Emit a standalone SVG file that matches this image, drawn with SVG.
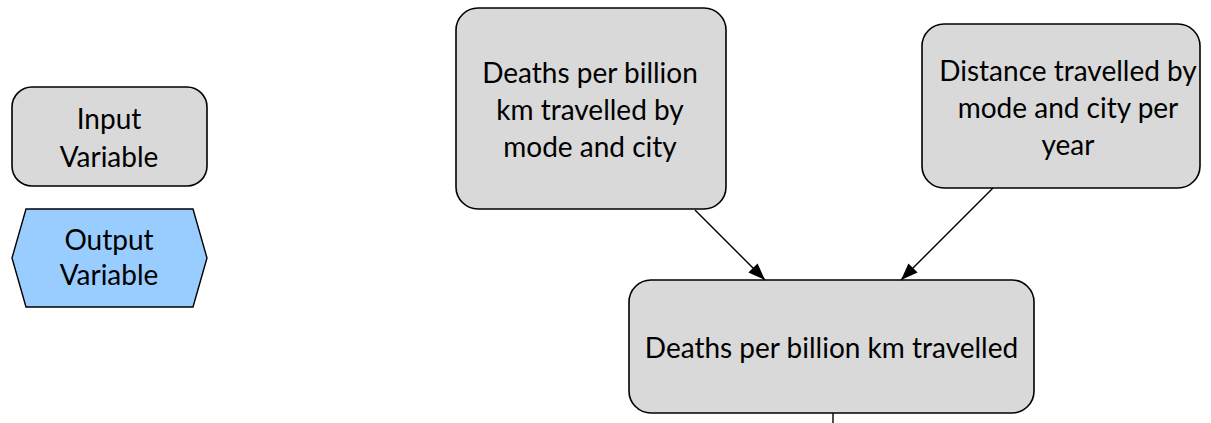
<svg xmlns="http://www.w3.org/2000/svg" width="1211" height="423" viewBox="0 0 1211 423">
  <style>
    .var { fill: #d9d9d9; stroke: #000; stroke-width: 1.6; }
    .out { fill: #99ccff; stroke: #000; stroke-width: 1.4; }
    .lbl { font-family: Lato, "Liberation Sans", sans-serif; font-size: 28px; fill: #000; text-anchor: middle; }
    .link { stroke: #000; stroke-width: 1.4; fill: none; }
  </style>
  <defs>
    <marker id="arrow" viewBox="0 0 17 13" refX="17" refY="6.5" markerWidth="17" markerHeight="13" markerUnits="userSpaceOnUse" orient="auto">
      <path d="M0,0 L17,6.5 L0,13 Z" fill="#000"/>
    </marker>
  </defs>
  <rect width="1211" height="423" fill="#fff"/>

  <!-- legend -->
  <g id="legend-input">
    <rect class="var" x="12" y="87" width="195" height="99" rx="20" ry="20"/>
    <text class="lbl" x="109" y="129">Input</text>
    <text class="lbl" x="109" y="167">Variable</text>
  </g>
  <g id="legend-output">
    <polygon class="out" points="26,209 193,209 207,258 193,307 26,307 12,258"/>
    <text class="lbl" x="109" y="250">Output</text>
    <text class="lbl" x="109" y="285">Variable</text>
  </g>

  <!-- nodes -->
  <g id="deaths-by-mode-city">
    <rect class="var" x="456" y="8" width="270" height="201" rx="22" ry="22"/>
    <text class="lbl" x="590" y="83">Deaths per billion</text>
    <text class="lbl" x="590" y="120">km travelled by</text>
    <text class="lbl" x="590" y="157">mode and city</text>
  </g>
  <g id="distance-by-mode-city">
    <rect class="var" x="922" y="24" width="278" height="164" rx="22" ry="22"/>
    <text class="lbl" x="1068" y="81">Distance travelled by</text>
    <text class="lbl" x="1068" y="118">mode and city per</text>
    <text class="lbl" x="1068" y="155">year</text>
  </g>
  <g id="deaths-per-billion-km">
    <rect class="var" x="629" y="280" width="405" height="133" rx="22" ry="22"/>
    <text class="lbl" x="831.5" y="358">Deaths per billion km travelled</text>
  </g>

  <!-- connectors -->
  <g id="connectors">
    <line class="link" x1="695" y1="210" x2="765" y2="280" marker-end="url(#arrow)"/>
    <line class="link" x1="993" y1="188" x2="901" y2="280" marker-end="url(#arrow)"/>
    <line class="link" x1="833" y1="413" x2="833" y2="423" stroke-width="2"/>
  </g>
</svg>
